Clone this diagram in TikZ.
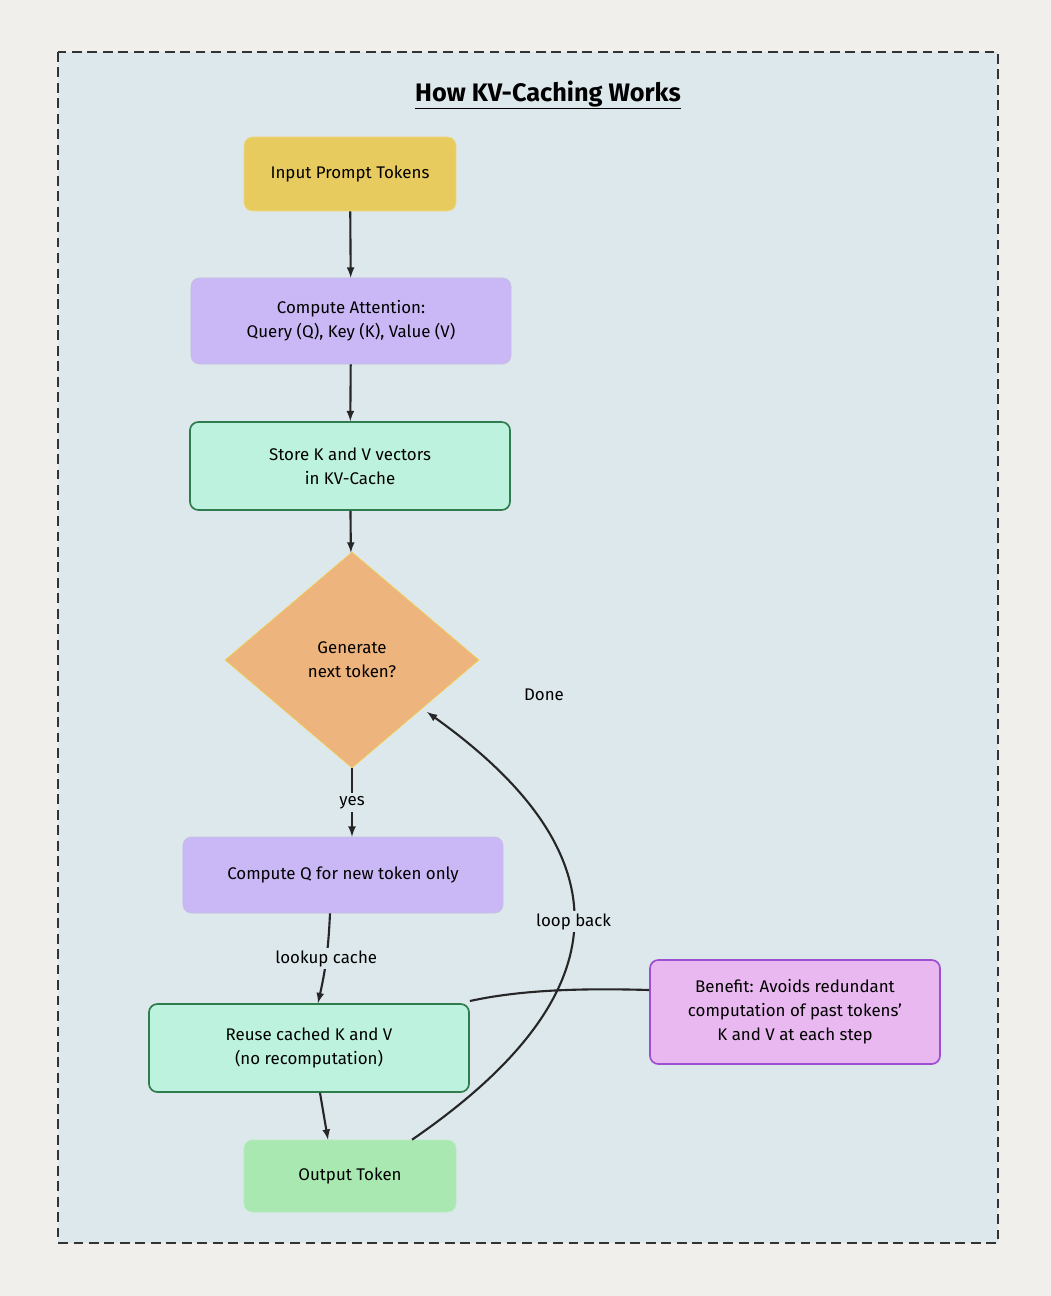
\documentclass[tikz,border=0pt]{standalone}
\usepackage{fontspec}
\setmainfont{Fira Sans}
\usepackage{xcolor}
\usetikzlibrary{shapes.geometric}
\definecolor{fond}{HTML}{F0EFEB}
\definecolor{cadre}{HTML}{DDE8EC}
\definecolor{jaune}{HTML}{E8CB5E}
\definecolor{violet}{HTML}{C9B8F5}
\definecolor{vert}{HTML}{BDF2DF}
\definecolor{vertfonce}{HTML}{2F7D4F}
\definecolor{orange}{HTML}{EDB47E}
\definecolor{vertclair}{HTML}{A9E8B0}
\definecolor{rose}{HTML}{E9B8F0}
\definecolor{mauve}{HTML}{9C4FD0}

\begin{document}
\begin{tikzpicture}[x=0.025cm,y=-0.025cm,font=\fontsize{12}{17}\selectfont]
% Styles
\tikzstyle{fleche}=[->,>=latex,line width=1.5pt,draw=black!85]
\tikzstyle{boite}=[rounded corners=6pt,align=center,inner sep=0pt]
\tikzstyle{etape}=[boite,fill=violet,draw=violet!80!black!60]
\tikzstyle{cache}=[boite,fill=vert,draw=vertfonce,line width=1.2pt]
% Fond
\useasboundingbox (0,0) rectangle (1051,1296);
\fill[fond] (0,0) rectangle (1051,1296);
\draw[dash pattern=on 7pt off 4pt,line width=1.2pt,draw=black!80,fill=cadre] (58,52) rectangle (998,1243);
\node (titre) at (548,95) {\fontsize{18}{20}\selectfont\textbf{\underline{How KV-Caching Works}}};
% Noeuds
\node[boite,fill=jaune,draw=jaune!70!white,minimum width=5.3cm,minimum height=1.85cm] (entree) at (350,174) {Input Prompt Tokens};
\node[etape,minimum width=8cm,minimum height=2.15cm] (attention) at (351,321) {Compute Attention:\\Query (Q), Key (K), Value (V)};
\node[cache,minimum width=8cm,minimum height=2.2cm] (stocke) at (350,466) {Store K and V vectors\\in KV-Cache};
\node[diamond,aspect=1.18,fill=orange,draw=orange!60!yellow,minimum width=6.35cm,minimum height=5.4cm,inner sep=0pt,align=center] (choix) at (352,660) {Generate\\next token?};
\node[etape,minimum width=8cm,minimum height=1.9cm] (requete) at (343,875) {Compute Q for new token only};
\node[cache,minimum width=8cm,minimum height=2.2cm] (reutilise) at (309,1048) {Reuse cached K and V\\(no recomputation)};
\node[boite,fill=vertclair,draw=vertclair!80!white,minimum width=5.3cm,minimum height=1.8cm] (sortie) at (350,1176) {Output Token};
\node[boite,fill=rose,draw=mauve,line width=1.2pt,minimum width=7.25cm,minimum height=2.6cm] (benefice) at (795,1012) {Benefit: Avoids redundant\\computation of past tokens'\\K and V at each step};
\node (fini) at (544,695) {Done};
% Arcs
\draw[fleche] (entree)--(attention);
\draw[fleche] (attention)--(stocke);
\draw[fleche] (stocke)--(choix);
\draw[fleche] (choix.south) -- node[fill=cadre,inner sep=2pt] {yes} (requete.north -| choix.south);
\draw[fleche] (requete.south -| 330,0) to[bend left=5] node[fill=cadre,inner sep=2pt] {lookup cache} (reutilise.north -| 318,0);
\draw[fleche] (reutilise.south -| 320,0) -- (sortie.north -| 328,0);
\draw[fleche] (sortie.north -| 412,0) .. controls (630,990) and (620,850) .. node[pos=0.5,fill=cadre,inner sep=2pt] {loop back} (427,712);
\draw[line width=1.5pt,black!85] (benefice.west |- 0,990) .. controls (580,988) and (520,990) .. (reutilise.north east |- 0,1001);
\end{tikzpicture}
\end{document}
